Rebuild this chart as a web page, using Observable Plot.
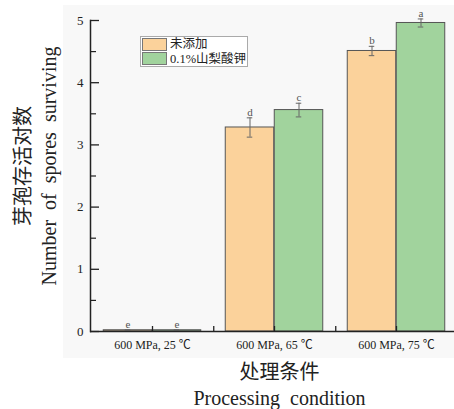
<!DOCTYPE html>
<html><head><meta charset="utf-8">
<script src="https://cdn.jsdelivr.net/npm/d3@7"></script>
<script src="https://cdn.jsdelivr.net/npm/@observablehq/plot@0.6"></script>
<style>
body{margin:0;background:#fff}
#wrap{position:relative;width:454px;height:409px;overflow:hidden}
#bg{position:absolute;left:63px;top:5px;width:391px;height:353px;background:#f8f8f8}
#chart{position:absolute;left:0;top:0}
#legend{position:absolute;left:140px;top:36px;width:104px;height:29px;border:1px solid #aaa;background:#fff;padding:0 1px;font-family:"Liberation Serif","Noto Sans CJK SC";font-size:12.5px;color:#222;white-space:nowrap}
.row{display:flex;align-items:center;height:14.5px;line-height:14.5px}
.sw{width:25px;height:13px;border:1px solid #777;margin-right:3px;box-sizing:border-box;flex:none}
</style></head>
<body>
<div id="wrap"><div id="bg"></div><div id="chart"></div>
<div id="legend"></div></div>
<script>
const groups = ["600 MPa, 25 ℃", "600 MPa, 65 ℃", "600 MPa, 75 ℃"];
const series = ["未添加", "0.1%山梨酸钾"];
const controlValues = [0.02, 3.28, 4.51];
const sorbateValues = [0.02, 3.56, 4.96];
const controlErr = [0.01, 0.155, 0.075];
const sorbateErr = [0.01, 0.11, 0.065];
const controlLetters = ["e", "d", "b"];
const sorbateLetters = ["e", "c", "a"];
const yTicks = [0, 1, 2, 3, 4, 5];
const yMinorTicks = [0.5, 1.5, 2.5, 3.5, 4.5];
const colors = ["#FBD29B", "#A1D39D"];

const rows = groups.flatMap((g, i) => [
  {group: g, series: series[0], value: controlValues[i], err: controlErr[i], letter: controlLetters[i]},
  {group: g, series: series[1], value: sorbateValues[i], err: sorbateErr[i], letter: sorbateLetters[i]}
]);
const A = rows.filter(d => d.series === series[0]);
const B = rows.filter(d => d.series === series[1]);

const STEP = 122.5, PAD = 12.25, HALF = STEP / 2, OFF = 24.5, CAP = 3;
const serif = "Liberation Serif, Noto Sans CJK SC, serif";
const cjk = "Noto Sans CJK SC";
const wide = s => s.split(" ").join("\u00a0\u00a0");

const plot = Plot.plot({
  width: 454, height: 409,
  marginLeft: 90, marginRight: 0, marginTop: 20, marginBottom: 78,
  style: {background: "transparent", color: "#222"},
  x: {type: "band", domain: groups, range: [90, 90 + 3 * STEP], padding: 0},
  y: {domain: [0, 5]},
  color: {domain: series, range: colors},
  marks: [
    Plot.barY(A, {x: "group", y: "value", fill: "series", stroke: "#555", strokeWidth: 1, insetLeft: PAD, insetRight: HALF}),
    Plot.barY(B, {x: "group", y: "value", fill: "series", stroke: "#555", strokeWidth: 1, insetLeft: HALF, insetRight: PAD}),
    Plot.ruleX(A, {x: "group", y1: d => d.value - d.err, y2: d => d.value + d.err, dx: -OFF, stroke: "#666"}),
    Plot.ruleX(B, {x: "group", y1: d => d.value - d.err, y2: d => d.value + d.err, dx: OFF, stroke: "#666"}),
    ...["-", "+"].flatMap(sgn => [
      Plot.tickY(A, {x: "group", y: d => sgn === "-" ? d.value - d.err : d.value + d.err, stroke: "#666", insetLeft: HALF - OFF - CAP, insetRight: STEP - (HALF - OFF + CAP)}),
      Plot.tickY(B, {x: "group", y: d => sgn === "-" ? d.value - d.err : d.value + d.err, stroke: "#666", insetLeft: HALF + OFF - CAP, insetRight: STEP - (HALF + OFF + CAP)})
    ]),
    Plot.text(A, {x: "group", y: d => d.value + d.err, text: "letter", dx: -OFF, dy: -2, lineAnchor: "bottom", fontSize: 11, fill: "#555", fontFamily: serif}),
    Plot.text(B, {x: "group", y: d => d.value + d.err, text: "letter", dx: OFF, dy: -2, lineAnchor: "bottom", fontSize: 11, fill: "#555", fontFamily: serif}),
    Plot.ruleY([0], {stroke: "#222", strokeWidth: 1.5}),
    Plot.frame({anchor: "left", stroke: "#222", strokeWidth: 1.5}),
    Plot.axisY({ticks: yTicks, tickSize: 9, dx: 9, tickFormat: () => "", label: null, strokeWidth: 1.3}),
    Plot.axisY({ticks: yMinorTicks, tickSize: 6, dx: 6, tickFormat: () => "", label: null, strokeWidth: 1.2}),
    Plot.axisY({ticks: yTicks, tickSize: 0, tickPadding: 7, tickFormat: d => String(d), label: null, fontSize: 13, fontFamily: serif}),
    Plot.axisX({tickSize: 5, dy: -5, tickFormat: () => "", label: null, strokeWidth: 1.3}),
    Plot.axisX({ticks: groups.slice(0, 2), tickSize: 5, dy: -5, dx: HALF, tickFormat: () => "", label: null, strokeWidth: 1.3}),
    Plot.axisX({tickSize: 0, tickPadding: 9, label: null, fontSize: 12, fontFamily: serif}),
    Plot.text(["芽孢存活对数"], {text: d => d, frameAnchor: "left", textAnchor: "middle", lineAnchor: "middle", dx: -67, dy: -10, rotate: -90, fontSize: 20, fontFamily: cjk, fill: "#222"}),
    Plot.text(["Number of spores surviving"], {text: d => wide(d), frameAnchor: "left", textAnchor: "middle", lineAnchor: "middle", dx: -41, dy: -10, rotate: -90, fontSize: 20, fontFamily: serif, fill: "#222"}),
    Plot.text(["处理条件"], {text: d => d, frameAnchor: "bottom", textAnchor: "middle", lineAnchor: "middle", dx: 7, dy: 41, fontSize: 20, fontFamily: cjk, fill: "#222"}),
    Plot.text(["Processing condition"], {text: d => wide(d), frameAnchor: "bottom", textAnchor: "middle", lineAnchor: "middle", dx: 7, dy: 67, fontSize: 20, fontFamily: serif, fill: "#222"})
  ]
});
document.getElementById("chart").appendChild(plot);

const legend = document.getElementById("legend");
series.forEach((s, i) => {
  const row = document.createElement("div");
  row.className = "row";
  const sw = document.createElement("div");
  sw.className = "sw";
  sw.style.background = colors[i];
  const t = document.createElement("span");
  t.textContent = s;
  row.appendChild(sw); row.appendChild(t);
  legend.appendChild(row);
});
</script>
</body></html>
